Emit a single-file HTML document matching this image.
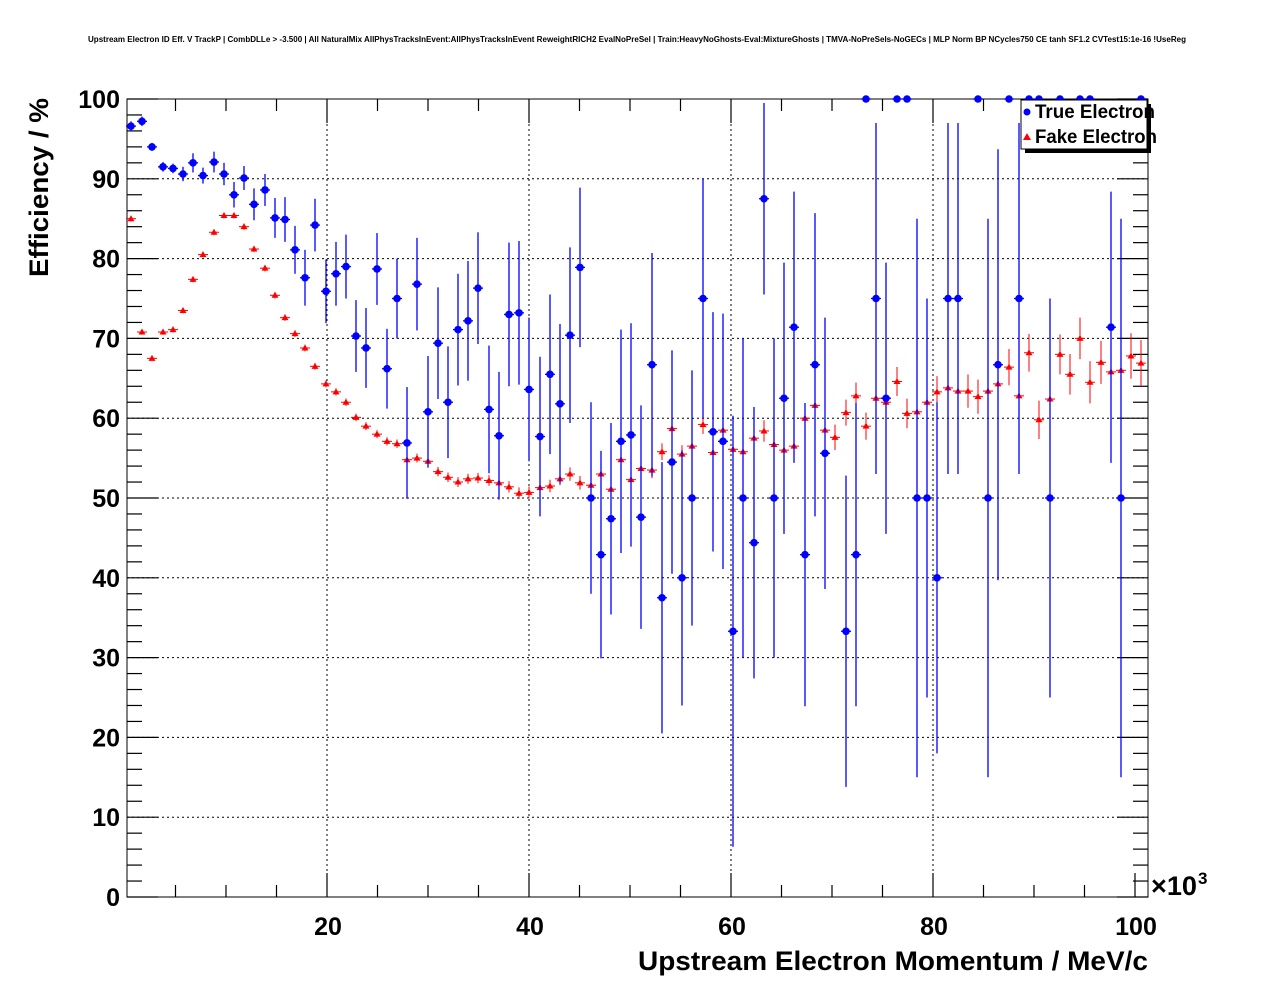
<!DOCTYPE html>
<html><head><meta charset="utf-8"><style>
html,body{margin:0;padding:0;background:#fff;}
svg{display:block;font-family:"Liberation Sans",Arial,sans-serif;}
</style></head><body>
<svg id="s" width="1276" height="996" viewBox="0 0 1276 996" xmlns="http://www.w3.org/2000/svg">
<rect x="0" y="0" width="1276" height="996" fill="#fff"/>
<text x="637" y="42" font-size="8" font-weight="bold" text-anchor="middle" textLength="1098" lengthAdjust="spacingAndGlyphs">Upstream Electron ID Eff. V TrackP | CombDLLe &gt; -3.500 | All NaturalMix AllPhysTracksInEvent:AllPhysTracksInEvent ReweightRICH2 EvalNoPreSel | Train:HeavyNoGhosts-Eval:MixtureGhosts | TMVA-NoPreSels-NoGECs | MLP Norm BP NCycles750 CE tanh SF1.2 CVTest15:1e-16 !UseReg</text>
<g id="grid" stroke="#000" stroke-width="1" stroke-dasharray="2,3"></g>
<g id="ticks" stroke="#000" stroke-width="1.2"></g>
<rect x="127" y="99" width="1021" height="798" fill="none" stroke="#000" stroke-width="1"/>
<g id="labels" font-size="25" font-weight="bold"></g>
<text x="1151" y="895" font-size="27" font-weight="bold" textLength="46" lengthAdjust="spacingAndGlyphs">×10</text>
<text x="1198" y="884" font-size="17" font-weight="bold">3</text>
<text x="1148" y="970" font-size="27" font-weight="bold" text-anchor="end" textLength="510" lengthAdjust="spacingAndGlyphs">Upstream Electron Momentum / MeV/c</text>
<text transform="translate(48,277) rotate(-90)" font-size="27" font-weight="bold" textLength="179" lengthAdjust="spacingAndGlyphs">Efficiency / %</text>
<g id="data"></g>
<rect x="1025" y="104" width="126" height="49" fill="#000"/>
<rect x="1021" y="100" width="126" height="49" fill="#fff" stroke="#000" stroke-width="1"/>
<circle cx="1027" cy="112" r="3.5" fill="#00f"/>
<text x="1035" y="118" font-size="19" font-weight="bold" textLength="120" lengthAdjust="spacingAndGlyphs">True Electron</text>
<polygon points="1023,140 1027,133 1031,140" fill="#f00"/>
<text x="1035" y="143" font-size="19" font-weight="bold" textLength="122" lengthAdjust="spacingAndGlyphs">Fake Electron</text>
</svg>
<script>
const NS="http://www.w3.org/2000/svg";
function el(p,t,a){const e=document.createElementNS(NS,t);for(const k in a)e.setAttribute(k,a[k]);p.appendChild(e);return e;}
const Y=v=>897-v*7.98, X=v=>125+v*10.1;
const grid=document.getElementById('grid'),ticks=document.getElementById('ticks'),labels=document.getElementById('labels');
for(let v=10;v<100;v+=10)el(grid,'line',{x1:127,x2:1148,y1:Y(v),y2:Y(v)});
for(let v=20;v<100;v+=20)el(grid,'line',{x1:X(v),x2:X(v),y1:99,y2:897});
for(let v=0;v<=100;v+=2){const L=v%10==0?31:15;el(ticks,'line',{x1:127,x2:127+L,y1:Y(v),y2:Y(v)});el(ticks,'line',{x1:1148,x2:1148-L,y1:Y(v),y2:Y(v)});}
for(let v=5;v<=100;v+=5){const L=v%20==0?24:12;el(ticks,'line',{x1:X(v),x2:X(v),y1:897,y2:897-L});el(ticks,'line',{x1:X(v),x2:X(v),y1:99,y2:99+L});}
for(let v=0;v<=100;v+=10){const t=el(labels,'text',{x:120,y:Y(v)+9,'text-anchor':'end'});t.textContent=v;}
for(let v=20;v<=100;v+=20){const t=el(labels,'text',{x:X(v)+1,y:935,'text-anchor':'middle'});t.textContent=v;}
const blue=[[131,96.6,.6],[142,97.2,.6],[152,94,.5],[163,91.5,.6],[173,91.3,.6],[183,90.6,.9],[193,92,1.2],[203,90.4,1],[214,92.1,1.3],[224,90.6,1.4],[234,88,1.6],[244,90.1,1.5],[254,86.8,2],[265,88.6,2],[275,85.1,2.5],[285,84.9,2.8],[295,81.1,3],[305,77.6,3.5],[315,84.2,3.3],[326,75.9,4],[336,78.1,4],[346,79,4],[356,70.3,4.5],[366,68.8,5],[377,78.7,4.5],[387,66.2,5],[397,75,5],[407,56.9,7],[417,76.8,5.8],[428,60.8,7],[438,69.4,7],[448,62,7],[458,71.1,7],[468,72.2,7.5],[478,76.3,7],[489,61.1,8],[499,57.8,8],[509,73,9],[519,73.2,9],[529,63.6,9],[540,57.7,10],[550,65.5,10],[560,61.8,10],[570,70.4,11],[580,78.9,10],[591,50,12],[601,42.9,13],[611,47.4,12],[621,57.1,14],[631,57.9,14],[641,47.6,14],[652,66.7,14],[662,37.5,17],[672,54.5,14],[682,40,16],[692,50,16],[703,75,15],[713,58.3,15],[723,57.1,16],[733,33.3,27],[743,50,20],[754,44.4,17],[764,87.5,12],[774,50,20],[784,62.5,17],[794,71.4,17],[805,42.9,19],[815,66.7,19],[825,55.6,17],[846,33.3,19.5],[856,42.9,19],[866,100,0],[876,75,22],[886,62.5,17],[897,100,0],[907,100,0],[917,50,35],[927,50,25],[937,40,22],[948,75,22],[958,75,22],[978,100,0],[988,50,35],[998,66.7,27],[1009,100,0],[1019,75,22],[1029,100,0],[1039,100,0],[1050,50,25],[1060,100,0],[1080,100,0],[1090,100,0],[1111,71.4,17],[1121,50,35],[1141,100,0]];
const red=[[131,85],[142,70.8],[152,67.5],[163,70.8],[173,71.1],[183,73.5],[193,77.4],[203,80.5],[214,83.3],[224,85.4],[234,85.4],[244,84],[254,81.2],[265,78.8],[275,75.4],[285,72.6],[295,70.6],[305,68.8],[315,66.5],[326,64.3],[336,63.3],[346,62],[356,60.1],[366,59],[377,58],[387,57.1],[397,56.8],[407,54.8],[417,55],[428,54.6],[438,53.3],[448,52.6],[458,52],[468,52.4],[478,52.5],[489,52.2],[499,51.9],[509,51.4],[519,50.6],[529,50.7],[540,51.3],[550,51.5],[560,52.4],[570,53],[580,51.9],[591,51.6],[601,53],[611,51.1],[621,54.8],[631,52.3],[641,53.7],[652,53.5],[662,55.8],[672,58.7],[682,55.5],[692,56.5],[703,59.2],[713,55.7],[723,58.5],[733,56.1],[743,55.8],[754,57.5],[764,58.4],[774,56.7],[784,56],[794,56.5],[805,60],[815,61.6],[825,58.5],[835,57.6],[846,60.7],[856,62.8],[866,59],[876,62.5],[886,62],[897,64.6],[907,60.6],[917,60.8],[927,62],[937,63.3],[948,63.8],[958,63.4],[968,63.4],[978,62.7],[988,63.4],[998,64.3],[1009,66.4],[1019,62.8],[1029,68.2],[1039,59.8],[1050,62.4],[1060,68],[1070,65.5],[1080,70],[1090,64.5],[1101,67],[1111,65.8],[1121,66],[1131,67.8],[1141,66.9]];
const d=document.getElementById('data');
red.forEach(([x,v],i)=>{const e=0.35+Math.pow(i/100,2)*2.6;
 el(d,'line',{x1:x,x2:x,y1:Y(Math.min(100,v+e)),y2:Y(v-e),stroke:'#f00','stroke-width':1});
 el(d,'line',{x1:x-5,x2:x+5,y1:Y(v),y2:Y(v),stroke:'#f00','stroke-width':1});
 const y=Y(v);el(d,'polygon',{points:`${x-3.5},${y+2.5} ${x},${y-3.5} ${x+3.5},${y+2.5}`,fill:'#f00'});});
blue.forEach(([x,v,e])=>{
 if(e>0)el(d,'line',{x1:x,x2:x,y1:Y(Math.min(100,v+e)),y2:Y(Math.max(0,v-e)),stroke:'#00f','stroke-width':1.3});
 el(d,'line',{x1:x-5,x2:x+5,y1:Y(v),y2:Y(v),stroke:'#00f','stroke-width':1.3});
 el(d,'circle',{cx:x,cy:Y(v),r:3.8,fill:'#00f'});});
</script>
</body></html>
